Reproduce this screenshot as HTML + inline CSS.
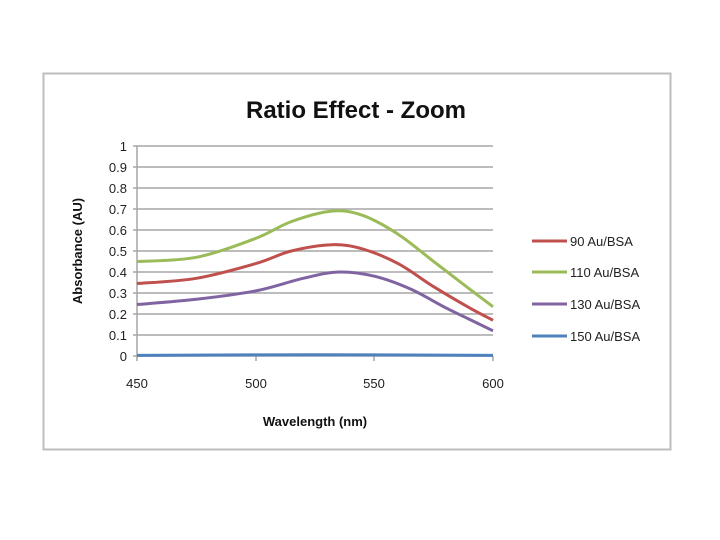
<!DOCTYPE html>
<html><head><style>
html,body{margin:0;padding:0;background:#fff;}
svg{display:block;font-family:"Liberation Sans",sans-serif;}
</style></head><body>
<svg width="720" height="540" viewBox="0 0 720 540">
<rect x="43.5" y="73.5" width="627" height="376" fill="#fff" stroke="#bdbdbd" stroke-width="2"/>
<text x="356" y="118" text-anchor="middle" font-size="24" font-weight="bold" fill="#111">Ratio Effect - Zoom</text>
<g stroke="#a6a6a6" stroke-width="1.5">
<line x1="133" y1="146" x2="493" y2="146"/>
<line x1="133" y1="167" x2="493" y2="167"/>
<line x1="133" y1="188" x2="493" y2="188"/>
<line x1="133" y1="209" x2="493" y2="209"/>
<line x1="133" y1="230" x2="493" y2="230"/>
<line x1="133" y1="251" x2="493" y2="251"/>
<line x1="133" y1="272" x2="493" y2="272"/>
<line x1="133" y1="293" x2="493" y2="293"/>
<line x1="133" y1="314" x2="493" y2="314"/>
<line x1="133" y1="335" x2="493" y2="335"/>
<line x1="133" y1="356" x2="493" y2="356"/>
<line x1="137" y1="146" x2="137" y2="356"/>
<line x1="137" y1="356" x2="137" y2="361"/>
<line x1="256" y1="356" x2="256" y2="361"/>
<line x1="374" y1="356" x2="374" y2="361"/>
<line x1="493" y1="356" x2="493" y2="361"/>
</g>
<g font-size="13" fill="#222" text-anchor="end">
<text x="127" y="151">1</text><text x="127" y="172">0.9</text><text x="127" y="193">0.8</text>
<text x="127" y="214">0.7</text><text x="127" y="235">0.6</text><text x="127" y="256">0.5</text>
<text x="127" y="277">0.4</text><text x="127" y="298">0.3</text><text x="127" y="319">0.2</text>
<text x="127" y="340">0.1</text><text x="127" y="361">0</text>
</g>
<g font-size="13" fill="#222" text-anchor="middle">
<text x="137" y="388">450</text><text x="256" y="388">500</text><text x="374" y="388">550</text><text x="493" y="388">600</text>
</g>
<text x="315" y="426" text-anchor="middle" font-size="13" font-weight="bold" fill="#111">Wavelength (nm)</text>
<text transform="translate(82,251) rotate(-90)" text-anchor="middle" font-size="13" font-weight="bold" fill="#111">Absorbance (AU)</text>
<g id="curves" fill="none" stroke-width="3"></g>
<g stroke-width="3">
<line x1="532" y1="241" x2="567" y2="241" stroke="#c0504d"/>
<line x1="532" y1="272" x2="567" y2="272" stroke="#9bbb59"/>
<line x1="532" y1="304" x2="567" y2="304" stroke="#8064a2"/>
<line x1="532" y1="336" x2="567" y2="336" stroke="#4f81bd"/>
</g>
<g font-size="13" fill="#222">
<text x="570" y="246">90 Au/BSA</text><text x="570" y="277">110 Au/BSA</text>
<text x="570" y="309">130 Au/BSA</text><text x="570" y="341">150 Au/BSA</text>
</g>
</svg>
<script>
function X(w){return 137+(w-450)*356/150;}
function Y(v){return 356-210*v;}
function cr(p){p=p.map(q=>[X(q[0]),Y(q[1])]);let d="M"+p[0][0]+","+p[0][1];for(let i=0;i<p.length-1;i++){const a=p[Math.max(0,i-1)],b=p[i],c=p[i+1],e=p[Math.min(p.length-1,i+2)];
d+=" C"+(b[0]+(c[0]-a[0])/6)+","+(b[1]+(c[1]-a[1])/6)+" "+(c[0]-(e[0]-b[0])/6)+","+(c[1]-(e[1]-b[1])/6)+" "+c[0]+","+c[1];}return d;}
const S=[["#4f81bd",[[450,0.003],[525,0.006],[600,0.003]]],
["#c0504d",[[450,.345],[475,.37],[500,.44],[515,.50],[532,.53],[545,.51],[560,.44],[575,.33],[590,.23],[600,.17]]],
["#8064a2",[[450,.245],[475,.27],[500,.31],[520,.37],[535,.40],[550,.38],[565,.32],[580,.23],[590,.175],[600,.12]]],
["#9bbb59",[[450,.45],[475,.47],[500,.56],[515,.64],[532,.69],[545,.67],[560,.58],[575,.45],[590,.32],[600,.235]]]];
const g=document.getElementById("curves");
S.forEach(s=>{const p=document.createElementNS("http://www.w3.org/2000/svg","path");p.setAttribute("d",cr(s[1]));p.setAttribute("stroke",s[0]);g.appendChild(p);});
</script>
</body></html>
